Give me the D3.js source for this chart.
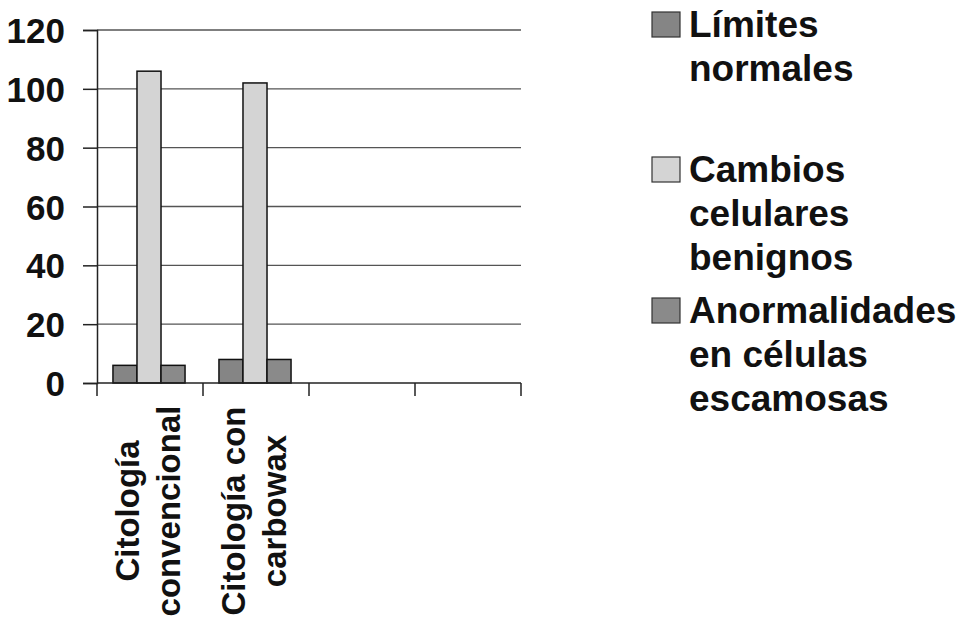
<!DOCTYPE html>
<html>
<head>
<meta charset="utf-8">
<script src="https://cdn.jsdelivr.net/npm/d3@7"></script>
<style>
  html, body { margin: 0; padding: 0; background: #fff; }
  svg { display: block; }
  text { font-family: "Liberation Sans", Arial, Helvetica, sans-serif; font-weight: bold; fill: #111; }
</style>
</head>
<body>
<svg id="chart" width="961" height="619"></svg>
<script>
// ---- data ----
const categories = ["Citología convencional", "Citología con carbowax"];
const categoryLines = [["Citología", "convencional"], ["Citología con", "carbowax"]];
const slotCount = 4; // the axis has four category slots, two are empty
const series = ["Límites normales", "Cambios celulares benignos", "Anormalidades en células escamosas"];
const seriesLines = [["Límites", "normales"], ["Cambios", "celulares", "benignos"], ["Anormalidades", "en células", "escamosas"]];
const limitesNormales = [6, 8];
const cambiosBenignos = [106, 102];
const anormalidades = [6, 8];
const yTicks = [0, 20, 40, 60, 80, 100, 120];

// ---- layout ----
const svg = d3.select("#chart");
const plot = { left: 97, right: 521, top: 30, bottom: 383 };
const colors = ["#858585", "#d4d4d4", "#8a8a8a"];
const values = [limitesNormales, cambiosBenignos, anormalidades];

const x = d3.scaleBand().domain(d3.range(slotCount)).range([plot.left, plot.right]).paddingInner(0).paddingOuter(0);
const groupW = x.bandwidth() * 0.68;
const xs = d3.scaleBand().domain(d3.range(series.length)).range([0, groupW]);
const y = d3.scaleLinear().domain([0, 120]).range([plot.bottom, plot.top]);

// gridlines
svg.append("g").selectAll("line").data(yTicks.filter(t => t > 0)).join("line")
  .attr("x1", plot.left).attr("x2", plot.right)
  .attr("y1", d => y(d)).attr("y2", d => y(d))
  .attr("stroke", "#555").attr("stroke-width", 1.3);

// bars
categories.forEach((c, ci) => {
  const g = svg.append("g").attr("transform", `translate(${x(ci) + (x.bandwidth() - groupW) / 2 - 1},0)`);
  g.selectAll("rect").data(series.map((s, si) => ({ si, v: values[si][ci] }))).join("rect")
    .attr("x", d => xs(d.si)).attr("width", xs.bandwidth())
    .attr("y", d => y(d.v)).attr("height", d => y(0) - y(d.v))
    .attr("fill", d => colors[d.si]).attr("stroke", "#111").attr("stroke-width", 1.5);
});

// y axis
const yAxis = d3.axisLeft(y).tickValues(yTicks).tickSize(14).tickPadding(18);
const gy = svg.append("g").attr("transform", `translate(${plot.left},0)`).call(yAxis);
gy.select(".domain").attr("stroke", "#222").attr("stroke-width", 1.5);
gy.selectAll(".tick line").attr("stroke", "#222").attr("stroke-width", 1.5);
gy.selectAll(".tick text").style("font-size", "35px").style("font-family", "'Liberation Sans', Arial, sans-serif").style("font-weight", "bold").attr("fill", "#111").attr("dy", "0.36em");

// x axis
const edges = d3.range(slotCount + 1).map(i => plot.left + i * x.step());
svg.append("line").attr("x1", plot.left).attr("x2", plot.right).attr("y1", plot.bottom).attr("y2", plot.bottom)
  .attr("stroke", "#222").attr("stroke-width", 1.5);
svg.append("g").selectAll("line").data(edges).join("line")
  .attr("x1", d => d).attr("x2", d => d).attr("y1", plot.bottom).attr("y2", plot.bottom + 13)
  .attr("stroke", "#222").attr("stroke-width", 1.5);

// x labels, rotated
categoryLines.forEach((lines, ci) => {
  const cx = x(ci) + x.bandwidth() / 2;
  const t = svg.append("text")
    .attr("transform", `translate(${cx},511) rotate(-90)`)
    .attr("text-anchor", "middle")
    .style("font-size", "33px");
  lines.forEach((ln, li) => {
    t.append("tspan").attr("x", 0).attr("y", li === 0 ? -11 : 30).text(ln);
  });
});

// legend
const legendTops = [12, 157, 298];
series.forEach((s, si) => {
  const top = legendTops[si];
  svg.append("rect").attr("x", 652).attr("y", top).attr("width", 28).attr("height", 25)
    .attr("fill", colors[si]).attr("stroke", "#333").attr("stroke-width", 1.2);
  const t = svg.append("text").style("font-size", "37px");
  seriesLines[si].forEach((ln, li) => {
    t.append("tspan").attr("x", 689).attr("y", top + 25 + li * 44).text(ln);
  });
});
</script>
</body>
</html>
